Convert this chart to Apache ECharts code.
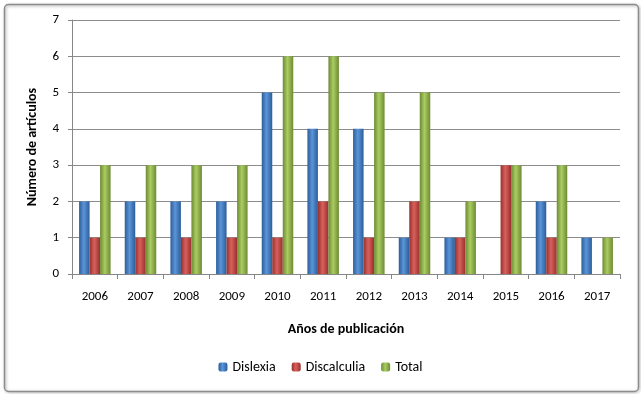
<!DOCTYPE html>
<html>
<head>
<meta charset="utf-8">
<script src="https://cdn.jsdelivr.net/npm/echarts@6/dist/echarts.min.js"></script>
<style>
  html, body { margin: 0; padding: 0; background: #fff; }
  #chart { width: 641px; height: 394px; }
</style>
</head>
<body>
<div id="chart"></div>
<script>
const years = ['2006', '2007', '2008', '2009', '2010', '2011', '2012', '2013', '2014', '2015', '2016', '2017'];
const dislexia = [2, 2, 2, 2, 5, 4, 4, 1, 1, 0, 2, 1];
const discalculia = [1, 1, 1, 1, 1, 2, 1, 2, 1, 3, 1, 0];
const total = [3, 3, 3, 3, 6, 6, 5, 5, 2, 3, 3, 1];

function grad(dark, light) {
    // barras con aspecto cilindrico como en Excel
    return new echarts.graphic.LinearGradient(0, 0, 1, 0, [
        { offset: 0, color: dark },
        { offset: 0.45, color: light },
        { offset: 1, color: dark }
    ]);
}

const font = 'Calibri, Carlito, "Liberation Sans", "DejaVu Sans", sans-serif';
const chart = echarts.init(document.getElementById('chart'));

chart.setOption({
    animation: false,
    textStyle: { fontFamily: font },
    graphic: [{
        type: 'rect',
        left: 2, top: 2,
        shape: { width: 634, height: 387, r: 4 },
        style: { fill: 'none', stroke: '#8c8c8c', lineWidth: 1.5,
                 shadowBlur: 3, shadowColor: 'rgba(0,0,0,0.35)', shadowOffsetX: 1, shadowOffsetY: 1 }
    }],
    grid: { left: 72, right: 21, top: 20, bottom: 120 },
    legend: {
        bottom: 15,
        left: 'center',
        itemWidth: 9,
        itemHeight: 9,
        itemGap: 16,
        textStyle: { fontSize: 14, color: '#000', fontFamily: font },
        data: ['Dislexia', 'Discalculia', 'Total']
    },
    xAxis: {
        type: 'category',
        data: years,
        name: 'Años de publicación',
        nameLocation: 'middle',
        nameGap: 48,
        nameTextStyle: { fontSize: 14, fontWeight: 'bold', color: '#000' },
        axisLine: { lineStyle: { color: '#868686' } },
        axisTick: { show: true, length: 5, lineStyle: { color: '#868686' } },
        axisLabel: { fontSize: 13, color: '#000', margin: 16 }
    },
    yAxis: {
        type: 'value',
        min: 0, max: 7, interval: 1,
        name: 'Número de artículos',
        nameLocation: 'middle',
        nameGap: 33,
        nameTextStyle: { fontSize: 14, fontWeight: 'bold', color: '#000' },
        axisLine: { show: true, lineStyle: { color: '#868686' } },
        axisTick: { show: true, length: 4, lineStyle: { color: '#868686' } },
        axisLabel: { fontSize: 13, color: '#000', margin: 13 },
        splitLine: { lineStyle: { color: '#8c8c8c' } }
    },
    series: [
        {
            name: 'Dislexia', type: 'bar', data: dislexia,
            barWidth: 10.5, barGap: '0%',
            itemStyle: { color: grad('#2c5d9a', '#5b95d8') }
        },
        {
            name: 'Discalculia', type: 'bar', data: discalculia,
            barWidth: 10.5,
            itemStyle: { color: grad('#98302d', '#d8605c') }
        },
        {
            name: 'Total', type: 'bar', data: total,
            barWidth: 10.5,
            itemStyle: { color: grad('#6d8b33', '#abcc62') }
        }
    ]
});
</script>
</body>
</html>
